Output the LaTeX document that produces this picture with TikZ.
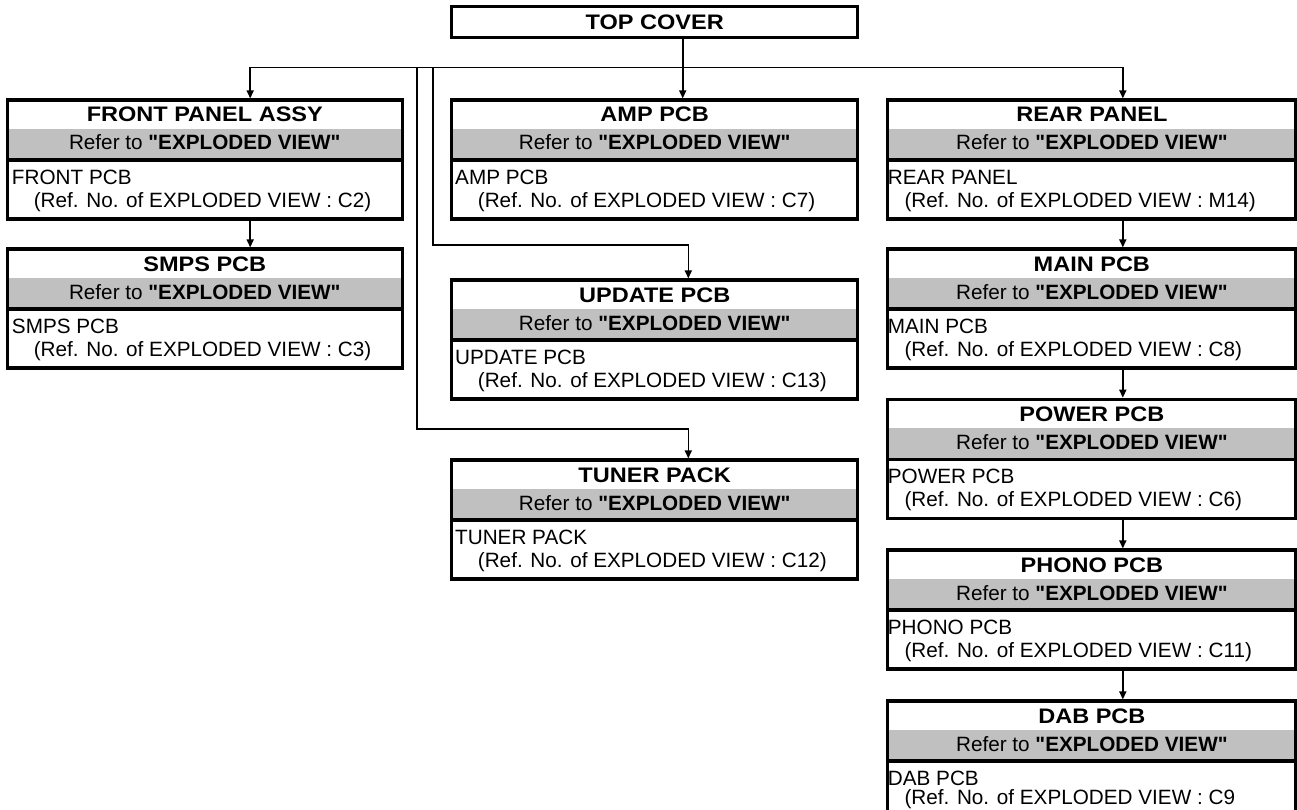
\documentclass[tikz,border=0pt]{standalone}
\usepackage{fontspec}
\setmainfont{Liberation Sans}[Ligatures=TeXOff]
\newfontfamily\ttlfont[FakeStretch=1.12,Ligatures=TeXOff]{Liberation Sans Bold}
\usepackage{tikz}
\usetikzlibrary{arrows.meta,calc}
\definecolor{bandgray}{RGB}{192,192,192}

% one disassembly box: name, x, y, width, title, part, ref. no.
\def\refy{107.5}
\newcommand{\partbox}[7]{%
  \node[pbox,minimum width=#4pt] (#1) at (#2,#3) {};
  \fill[bandgray] ($(#1.north west)+(0,29)$) rectangle ($(#1.north east)+(0,59)$);
  \draw[boxline] (#1.north west) rectangle (#1.south east);
  \draw[boxline] ($(#1.north west)+(0,60)$) -- ($(#1.north east)+(0,60)$);
  \node[ttl] (#1-t) at ($(#1.north)+(0,22)$) {#5};
  \node[txt] (#1-r) at ($(#1.north)+(0,50)$) {Refer to \textbf{"EXPLODED VIEW"}};
  \node[txt,anchor=base west] (#1-i) at ($(#1.north west)+(\ina,84.5)$) {#6};
  \node[txt,anchor=base west] (#1-n) at ($(#1.north west)+(\inb,\refy)$) {(Ref. No. of EXPLODED VIEW : #7};
}

\begin{document}
\begin{tikzpicture}[x=1pt,y=-1pt,
  pbox/.style={rectangle,anchor=north west,inner sep=0pt,outer sep=0pt,minimum height=119pt},
  boxline/.style={line width=3.2pt},
  ttl/.style={anchor=base,inner sep=0pt,font=\ttlfont\fontsize{21}{24}\selectfont},
  txt/.style={anchor=base,inner sep=0pt,font=\fontsize{20.7}{24}\selectfont},
  link/.style={line width=1.6pt},
  arr/.style={link,shorten >=1.6pt,-{Triangle[length=8pt,width=7pt]}}]

\clip (0,0) rectangle (1297,810);

% --- top cover ---
\node[pbox,minimum width=406pt,minimum height=31pt,draw,line width=3.2pt] (top) at (451.7,6.7) {};
\node[ttl] (top-t) at ($(top.north)+(0,23)$) {TOP COVER};

% --- left column ---
\begin{scope}
  \def\ina{4.5}\def\inb{26.3}
  \partbox{front}{7.3}{100}{395}{FRONT PANEL ASSY}{FRONT PCB}{C2)}
  \partbox{smps}{7.3}{249}{395}{SMPS PCB}{SMPS PCB}{C3)}
\end{scope}

% --- middle column ---
\begin{scope}
  \def\ina{3.3}\def\inb{26}
  \partbox{amp}{451.7}{100}{406}{AMP PCB}{AMP PCB}{C7)}
  \partbox{update}{451.7}{280}{406}{UPDATE PCB}{UPDATE PCB}{C13)}
  \partbox{tuner}{451.7}{460}{406}{TUNER PACK}{TUNER PACK}{C12)}
\end{scope}

% --- right column ---
\begin{scope}
  \def\ina{0}\def\inb{16.6}
  \partbox{rear}{887.7}{100}{408.3}{REAR PANEL}{REAR PANEL}{M14)}
  \partbox{main}{887.7}{249}{408.3}{MAIN PCB}{MAIN PCB}{C8)}
  \partbox{power}{887.7}{399.3}{408.3}{POWER PCB}{POWER PCB}{C6)}
  \partbox{phono}{887.7}{550}{408.3}{PHONO PCB}{PHONO PCB}{C11)}
  \def\refy{103}
  \partbox{dab}{887.7}{701}{408.3}{DAB PCB}{DAB PCB}{C9}
\end{scope}

% --- connectors ---
\coordinate (bus) at (0,67.7);
\coordinate (ub) at (0,245);
\coordinate (tb) at (0,429);
\coordinate (lx) at (250.2,0);
\coordinate (vb) at (416.8,0);
\coordinate (va) at (432.8,0);
\coordinate (mx) at (682.7,0);
\coordinate (ux) at (688.3,0);
\coordinate (rx) at (1122.8,0);

\draw[arr] (top.south -| mx) -- (amp.north -| mx);
\draw[arr] (bus -| mx) -| (front.north -| lx);
\draw[arr] (bus -| mx) -| (rear.north -| rx);
\draw[arr] (bus -| va) |- (ub -| ux) -- (update.north -| ux);
\draw[arr] (bus -| vb) |- (tb -| ux) -- (tuner.north -| ux);
\draw[arr] (front.south -| lx) -- (smps.north -| lx);
\draw[arr] (rear.south -| rx) -- (main.north -| rx);
\draw[arr] (main.south -| rx) -- (power.north -| rx);
\draw[arr] (power.south -| rx) -- (phono.north -| rx);
\draw[arr] (phono.south -| rx) -- (dab.north -| rx);

\end{tikzpicture}
\end{document}
